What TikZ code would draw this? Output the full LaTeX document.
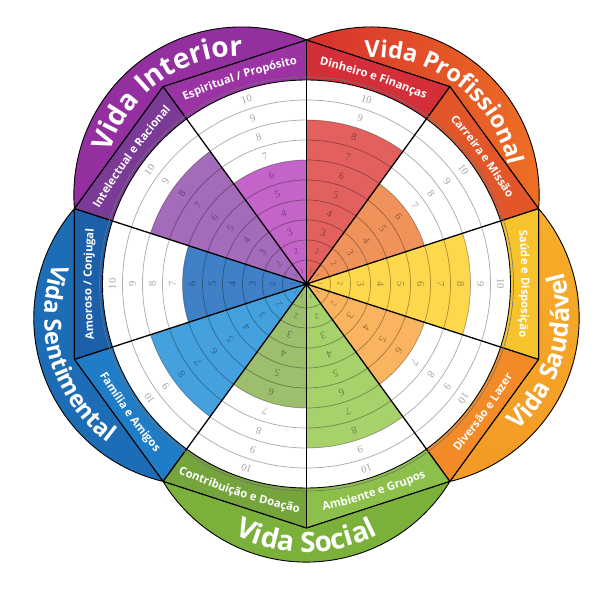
\documentclass[tikz,border=0pt]{standalone}
\usepackage{fontspec}
\setmainfont{Open Sans}
\newfontfamily\numfont{Liberation Serif}
\usetikzlibrary{decorations.text}
% petals
\definecolor{petInt}{HTML}{932F9E}
\definecolor{profA}{HTML}{D6302E}
\definecolor{profB}{HTML}{EE7024}
\definecolor{sauA}{HTML}{F7AE29}
\definecolor{sauB}{HTML}{F39A25}
\definecolor{petSoc}{HTML}{7BB13B}
\definecolor{petSen}{HTML}{1C6DB5}
% bands
\definecolor{bandDin}{HTML}{D42E38}
\definecolor{bandCar}{HTML}{E2562A}
\definecolor{bandSau}{HTML}{F7C32D}
\definecolor{bandDiv}{HTML}{F28A27}
\definecolor{bandAmb}{HTML}{8CC04A}
\definecolor{bandCon}{HTML}{76A43C}
\definecolor{bandFam}{HTML}{1F7CC6}
\definecolor{bandAmo}{HTML}{1B60A9}
\definecolor{bandInt}{HTML}{7B3A95}
\definecolor{bandEsp}{HTML}{9B33A5}
% wedge fills
\definecolor{fDin}{HTML}{E2615E}
\definecolor{fCar}{HTML}{F0935B}
\definecolor{fSau}{HTML}{FDD84C}
\definecolor{fDiv}{HTML}{FAB35E}
\definecolor{fAmb}{HTML}{A7D16B}
\definecolor{fCon}{HTML}{9DBE6D}
\definecolor{fFam}{HTML}{45A1DE}
\definecolor{fAmo}{HTML}{3F80C6}
\definecolor{fInt}{HTML}{A46BBB}
\definecolor{fEsp}{HTML}{C463C8}
\newcommand\bandfont{\fontsize{11.3}{11.3}\selectfont\bfseries}
\tikzset{
  bandtext/.style={decorate, decoration={text along path, text align=center, text color=white, text={|\bandfont|#1}}},
  ringline/.style={draw=black, draw opacity=0.32, line width=0.75pt},
  numlabel/.style={font=\numfont\fontsize{#1}{#1}\selectfont, text=black, text opacity=0.36, inner sep=0pt},
  radial/.style={draw=black, line width=1.3pt},
  outline/.style={draw=black, line width=0.9pt, line join=round},
}
\newcommand\petal[2]{\path[#1] ({#2-36}:244) -- ({#2}:244) -- ({#2+36}:244) arc[start angle={#2+58.7}, end angle={#2-58.7}, radius=167.9] -- cycle;}
% #1 mid angle, #2 font size, #3 baseline radius, #4 text
\newcommand\uppetaltext[4]{\path[decorate, decoration={text along path, text align=center, text color=white, text={|\fontsize{#2}{#2}\selectfont\bfseries|#4}}, shift={({#1}:110.1)}] ({#1+75}:#3) arc[start angle={#1+75}, end angle={#1-75}, radius=#3];}
\newcommand\lowpetaltext[4]{\path[decorate, decoration={text along path, text align=center, text color=white, text={|\fontsize{#2}{#2}\selectfont\bfseries|#4}}, shift={({#1}:110.1)}] ({#1-75}:#3) arc[start angle={#1-75}, end angle={#1+75}, radius=#3];}
\newcommand\upbandtext[2]{\path[bandtext={#2}, shift={({#1+180}:400)}] ({#1+12}:615) arc[start angle={#1+12}, end angle={#1-12}, radius=615];}
\newcommand\lowbandtext[2]{\path[bandtext={#2}, shift={({#1+180}:400)}] ({#1-12}:623) arc[start angle={#1-12}, end angle={#1+12}, radius=623];}
\begin{document}
\begin{tikzpicture}[x=1pt,y=1pt]
\useasboundingbox (0,0) rectangle (600,600);
\fill[white] (0,0) rectangle (600,600);
\begin{scope}[shift={(306.5,316)}]
  % petals
  \petal{fill=petInt}{126}
  \petal{left color=profA, right color=profB}{54}
  \petal{top color=sauA, bottom color=sauB}{-18}
  \petal{fill=petSoc}{-90}
  \petal{fill=petSen}{198}
  % bands
  \foreach \a/\col in {54/bandDin, 18/bandCar, -18/bandSau, -54/bandDiv, -90/bandAmb, -126/bandCon, -162/bandFam, 162/bandAmo, 126/bandInt, 90/bandEsp}
    {\fill[\col] (0,0) -- (\a:244) -- ({\a+36}:244) -- cycle;}
  % white disc
  \fill[white] (0,0) circle[radius=204];
  % wedges
  \foreach \a/\r/\col in {54/164/fDin, 18/124/fCar, -18/164/fSau, -54/124/fDiv, -90/164/fAmb, -126/124/fCon, -162/164/fFam, 162/124/fAmo, 126/164/fInt, 90/124/fEsp}
    {\fill[\col] (0,0) -- (\a:\r) arc[start angle=\a, end angle={\a+36}, radius=\r] -- cycle;}
  % rings
  \foreach \j in {1,...,9} {\draw[ringline] (0,0) circle[radius={4+20*\j}];}
  % numbers
  \foreach \m in {72,36,0,-36,-72,-108,-144,180,144,108} {
    \node[numlabel=6, rotate={\m-90}] (n1x\m) at (\m:14) {1};
    \node[numlabel=8.5, rotate={\m-90}] (n2x\m) at (\m:34) {2};
    \foreach \k in {3,...,10} {
      \node[numlabel=10.5, rotate={\m-90}] (n\k x\m) at (\m:{20*\k-6}) {\k};
    }
  }
  % radial lines
  \foreach \a in {90,54,18,-18,-54,-90,-126,-162,162,126} {\draw[radial] (0,0) -- (\a:244);}
  \fill[black] (0,0) circle[radius=2.5];
  % disc edge
  \draw[black!55, line width=0.6pt] (0,0) circle[radius=207];
  \draw[black, line width=0.9pt] (0,0) circle[radius=204];
  % outlines
  \draw[outline] (90:244) -- (54:244) -- (18:244) -- (-18:244) -- (-54:244) -- (-90:244) -- (-126:244) -- (-162:244) -- (162:244) -- (126:244) -- cycle;
  \foreach \m in {126,54,-18,-90,198} {\petal{outline}{\m}}
  % band labels
  \upbandtext{72}{Dinheiro e Finanças}
  \upbandtext{36}{Carreira e Missão}
  \upbandtext{0}{Saúde e Disposição}
  \upbandtext{180}{Amoroso / Conjugal}
  \upbandtext{144}{Intelectual e Racional}
  \upbandtext{108}{Espiritual / Propósito}
  \lowbandtext{-36}{Diversão e Lazer}
  \lowbandtext{-72}{Ambiente e Grupos}
  \lowbandtext{-108}{Contribuição e Doação}
  \lowbandtext{-144}{Família e Amigos}
  % petal labels
  \uppetaltext{126}{28}{139}{Vida Interior}
  \uppetaltext{53}{23.5}{139}{Vida Profissional}
  \lowpetaltext{-16}{25}{157}{Vida Saudável}
  \lowpetaltext{-90}{28}{158}{Vida Social}
  \lowpetaltext{-163}{23.5}{157}{Vida Sentimental}
\end{scope}
\end{tikzpicture}
\end{document}
